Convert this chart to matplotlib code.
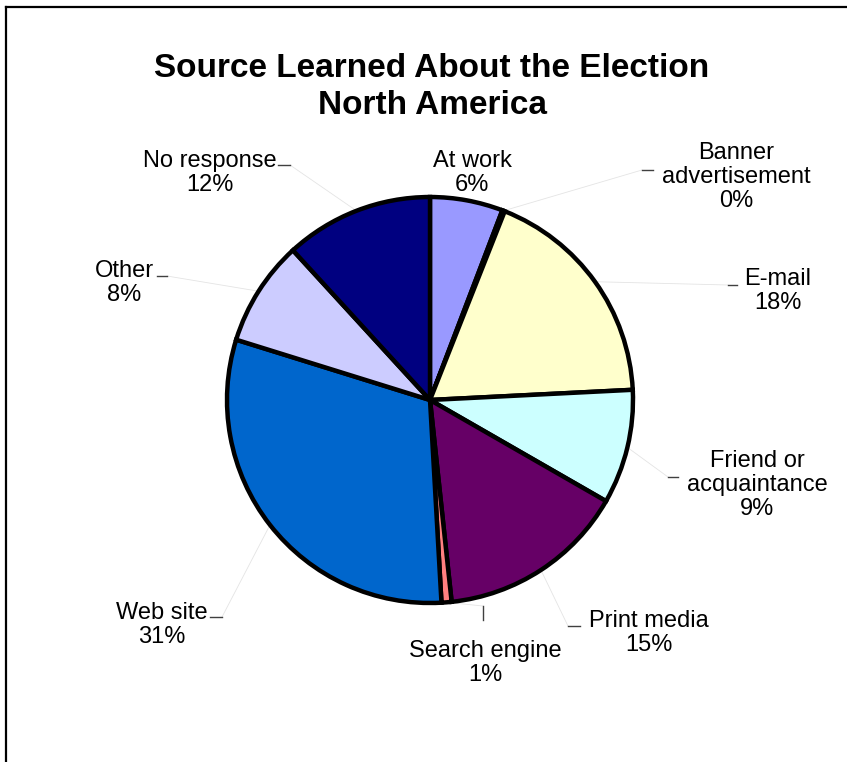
import numpy as np
import matplotlib
matplotlib.use("Agg")
import matplotlib.pyplot as plt
from matplotlib.lines import Line2D

plt.rcParams["font.family"] = ["Liberation Sans", "DejaVu Sans"]

# ==================== DATA ====================
categories = ["At work", "Banner\nadvertisement", "E-mail", "Friend or\nacquaintance",
              "Print media", "Search engine", "Web site", "Other", "No response"]
shares = [5.8, 0.2, 18.2, 9.1, 15.0, 0.8, 30.7, 8.4, 11.8]
colors = ["#9999FF", "#993366", "#FFFFCC", "#CCFFFF", "#660066",
          "#FF8080", "#0066CC", "#CCCCFF", "#000080"]

# ==================== LAYOUT (pixels, origin top-left) ====================
W, H = 847, 762
CENTER = (430, 400)
RADIUS = 203

# label block centres
label_pos = [(472, 173), (736, 177), (778, 291), (757, 485), (649, 633),
             (485, 663), (162, 625), (124, 283), (210, 173)]
# small dash next to each label (x0, y0, x1, y1); leader starts at (x0, y0)
dashes = [None, (642, 170, 653, 170), (728, 285, 737, 285), (668, 477, 678, 477),
          (568, 626, 580, 626), (483, 606, 483, 620), (222, 617, 210, 617),
          (167, 276, 157, 276), (290, 165, 278, 165)]

LABEL_FS = 17
TITLE_FS = 24


def px(x, y):
    return x, H - y


fig = plt.figure(figsize=(W / 100, H / 100), dpi=100)
ax = fig.add_axes([0, 0, 1, 1])

wedges, _ = ax.pie(shares, colors=colors, startangle=90, counterclock=False,
                   center=px(*CENTER), radius=RADIUS,
                   wedgeprops=dict(edgecolor="black", linewidth=3.2))

ax.set_xlim(0, W)
ax.set_ylim(0, H)
ax.set_aspect("auto")
ax.axis("off")

cx, cy = px(*CENTER)
for w, name, val, lp, d in zip(wedges, categories, shares, label_pos, dashes):
    ax.text(*px(*lp), f"{name}\n{int(val + 0.5)}%", ha="center", va="center",
            fontsize=LABEL_FS, linespacing=1.12)
    if d is None:
        continue
    mid = np.deg2rad((w.theta1 + w.theta2) / 2)
    ex, ey = cx + RADIUS * np.cos(mid), cy + RADIUS * np.sin(mid)
    sx, sy = px(d[0], d[1])
    ax.plot([ex, sx], [ey, sy], color="#e4e4e4", linewidth=0.6, zorder=0.5)
    ax.plot(*zip(px(d[0], d[1]), px(d[2], d[3])), color="#404040", linewidth=1.0)

fig.text(432 / W, 1 - 87 / H, "Source Learned About the Election\nNorth America",
         ha="center", va="center", fontsize=TITLE_FS, fontweight="bold", linespacing=1.22)

# chart area frame (left and top edges visible)
fig.add_artist(Line2D([6 / W, 6 / W], [0, 1 - 7 / H], transform=fig.transFigure,
                      color="black", linewidth=1.6))
fig.add_artist(Line2D([6 / W, 1], [1 - 7 / H, 1 - 7 / H], transform=fig.transFigure,
                      color="black", linewidth=1.6))

fig.savefig("out.png", dpi=100, facecolor="white")
